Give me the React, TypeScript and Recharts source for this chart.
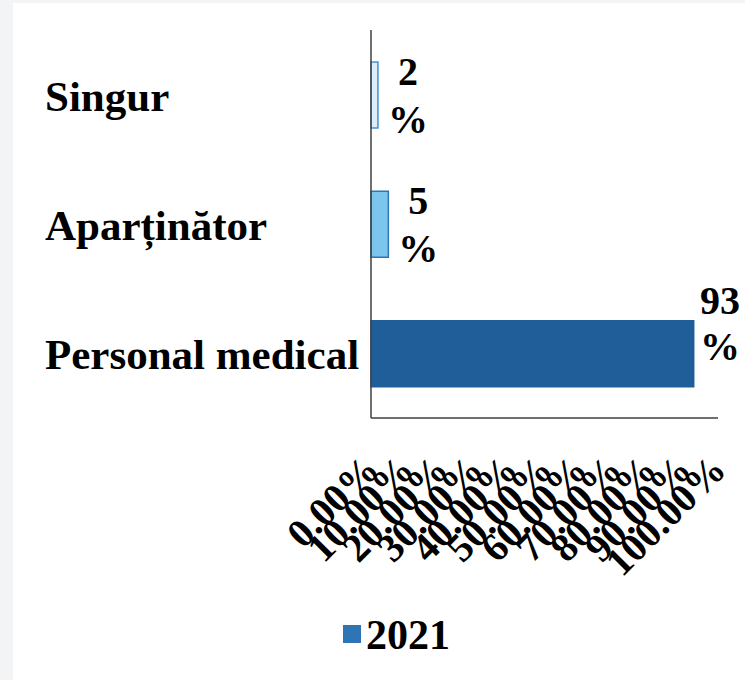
import React from 'react';
import { BarChart, Bar, XAxis, YAxis, Legend, Cell, LabelList } from 'recharts';

const categories = ['Singur', 'Aparținător', 'Personal medical'];
const values2021 = [2, 5, 93];
const seriesName = '2021';
const xTicks = [0, 10, 20, 30, 40, 50, 60, 70, 80, 90, 100];
const xTickLabels = ['0.00%', '10.00%', '20.00%', '30.00%', '40.00%', '50.00%', '60.00%', '70.00%', '80.00%', '90.00%', '100.00%'];

const barFills = ['#dcedf9', '#7cc6ed', '#1f5e99'];
const barStrokes = ['#4d8fcc', '#2e75b6', '#1f5e99'];
const legendColor = '#2e75b6';

const data = categories.map((c, i) => ({ category: c, value: values2021[i] }));

const W = 745;
const H = 680;
const MARGIN = { top: 30, right: 27, left: 45, bottom: 0 };
const Y_AXIS_W = 326;
const PLOT_RIGHT = W - MARGIN.right;
const FONT = '"Liberation Serif", "Times New Roman", serif';
const AXIS_COLOR = '#404040';

const YTick = (props: any) => {
  const { x, y, payload } = props;
  return (
    <text x={x - Y_AXIS_W} y={y} dy={16} textAnchor="start" fontFamily={FONT} fontWeight="bold" fontSize={43} fill="#000">
      {payload.value}
    </text>
  );
};

const XTick = (props: any) => {
  const { x, y, index } = props;
  return (
    <g transform={`translate(${x + 10},${y + 54}) rotate(-45)`}>
      <text x={0} y={0} textAnchor="end" fontFamily={FONT} fontWeight="bold" fontSize={40} fill="#000">
        {xTickLabels[index]}
      </text>
    </g>
  );
};

const ValueLabel = (props: any) => {
  const { x, y, width, height, value } = props;
  const natural = x + width + 30;
  const clamped = natural > PLOT_RIGHT + 2;
  const cx = clamped ? PLOT_RIGHT + 2 : natural;
  const cy = y + height / 2;
  const y1 = clamped ? cy - 40 : cy - 10;
  const y2 = clamped ? cy + 6 : cy + 38;
  return (
    <text textAnchor="middle" fontFamily={FONT} fontWeight="bold" fontSize={40} fill="#000">
      <tspan x={cx} y={y1}>{value}</tspan>
      <tspan x={cx} y={y2}>%</tspan>
    </text>
  );
};

const LegendContent = () => (
  <svg width={W} height={70} style={{ display: 'block' }}>
    <rect x={343} y={15} width={18} height={18} fill={legendColor} />
    <text x={366} y={39} fontFamily={FONT} fontWeight="bold" fontSize={42} fill="#000">
      {seriesName}
    </text>
  </svg>
);

export default function App() {
  return (
    <div style={{ position: 'absolute', left: 0, top: 0, width: W, height: H, background: '#f3f4f6', overflow: 'hidden' }}>
      <div style={{ position: 'absolute', left: 13, top: 3, width: W - 13, height: H - 3, background: '#ffffff' }} />
      <div style={{ position: 'absolute', left: 0, top: 0 }}>
        <BarChart width={W} height={H} data={data} layout="vertical" margin={MARGIN} barSize={66}>
          <XAxis
            type="number"
            domain={[0, 100]}
            ticks={xTicks}
            interval={0}
            height={192}
            tickSize={0}
            tickMargin={0}
            tickLine={false}
            axisLine={{ stroke: AXIS_COLOR, strokeWidth: 1.5 }}
            tick={<XTick />}
          />
          <YAxis
            type="category"
            dataKey="category"
            width={Y_AXIS_W}
            tickSize={0}
            tickMargin={0}
            tickLine={false}
            axisLine={{ stroke: AXIS_COLOR, strokeWidth: 1.5 }}
            tick={<YTick />}
          />
          <Legend verticalAlign="bottom" height={70} wrapperStyle={{ left: 0, width: W }} content={<LegendContent />} />
          <Bar dataKey="value" name={seriesName} isAnimationActive={false} strokeWidth={1.5}>
            {data.map((d, i) => (
              <Cell key={d.category} fill={barFills[i]} stroke={barStrokes[i]} />
            ))}
            <LabelList dataKey="value" content={<ValueLabel />} />
          </Bar>
        </BarChart>
      </div>
    </div>
  );
}
